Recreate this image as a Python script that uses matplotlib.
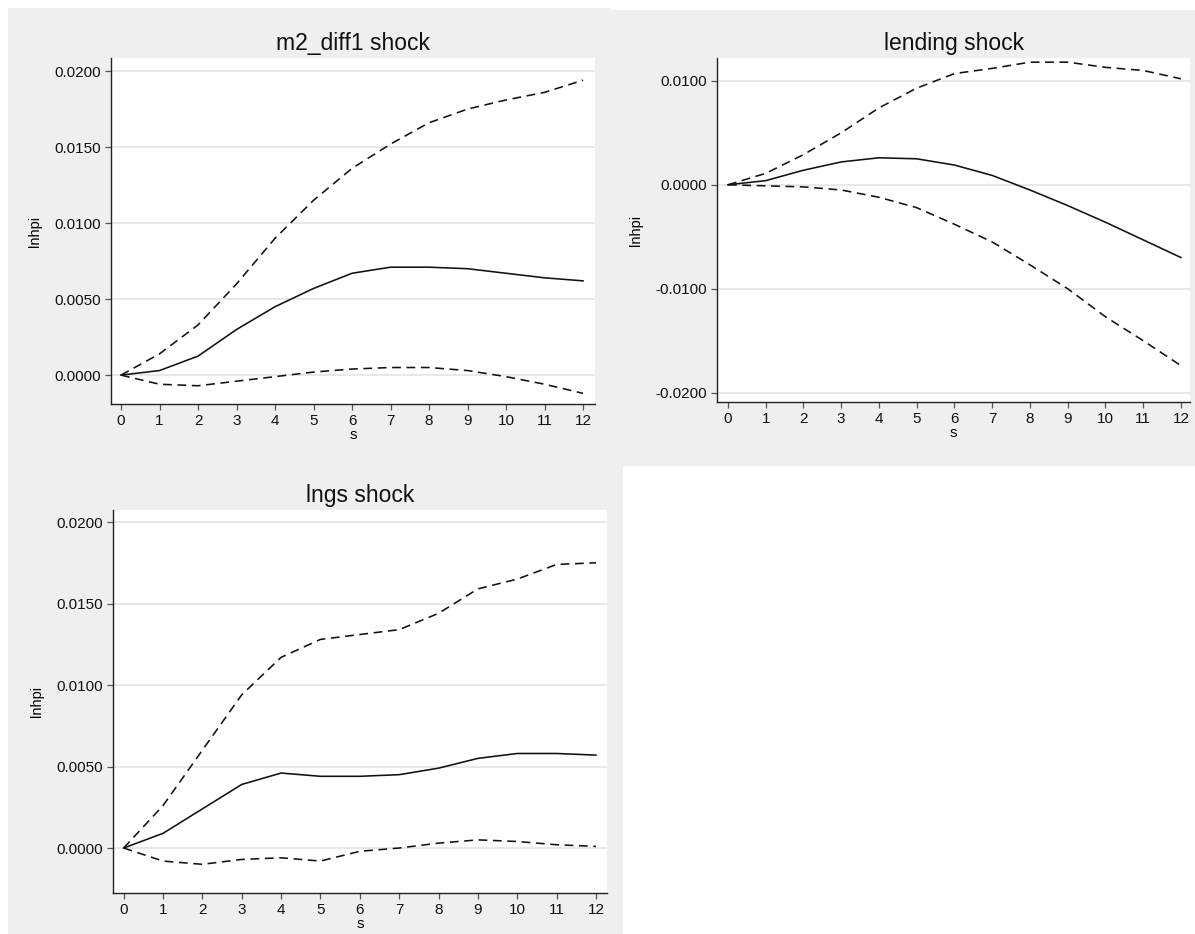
import matplotlib
matplotlib.use("Agg")
import matplotlib.pyplot as plt
from matplotlib.patches import Rectangle

plt.rcParams['font.family'] = ['Liberation Sans', 'DejaVu Sans']

steps = list(range(13))
xticks = list(range(13))

# m2_diff1 shock
m2_irf = [0.0, 0.0003, 0.00125, 0.0030, 0.0045, 0.0057, 0.0067, 0.0071, 0.0071, 0.0070, 0.0067, 0.0064, 0.0062]
m2_upper = [0.0, 0.0014, 0.0033, 0.0060, 0.0090, 0.0115, 0.0136, 0.0152, 0.0166, 0.0175, 0.0181, 0.0186, 0.0194]
m2_lower = [0.0, -0.0006, -0.0007, -0.0004, -0.0001, 0.0002, 0.0004, 0.0005, 0.0005, 0.0003, -0.0001, -0.0006, -0.0012]

# lending shock
lend_irf = [0.0, 0.0004, 0.0014, 0.0022, 0.0026, 0.0025, 0.0019, 0.0009, -0.0005, -0.0020, -0.0036, -0.0053, -0.0070]
lend_upper = [0.0, 0.0011, 0.0029, 0.0050, 0.0074, 0.0093, 0.0107, 0.0112, 0.0118, 0.0118, 0.0113, 0.0110, 0.0102]
lend_lower = [0.0, -0.0001, -0.0002, -0.0005, -0.0012, -0.0022, -0.0038, -0.0055, -0.0077, -0.0100, -0.0127, -0.0150, -0.0174]

# lngs shock
lngs_irf = [0.0, 0.0009, 0.0024, 0.0039, 0.0046, 0.0044, 0.0044, 0.0045, 0.0049, 0.0055, 0.0058, 0.0058, 0.0057]
lngs_upper = [0.0, 0.0026, 0.0060, 0.0094, 0.0117, 0.0128, 0.0131, 0.0134, 0.0144, 0.0159, 0.0165, 0.0174, 0.0175]
lngs_lower = [0.0, -0.0008, -0.0010, -0.0007, -0.0006, -0.0008, -0.0002, 0.0, 0.0003, 0.0005, 0.0004, 0.0002, 0.0001]

W, H = 1195, 934
fig = plt.figure(figsize=(W / 100, H / 100), dpi=100)
fig.patch.set_facecolor('white')

bg = '#efefef'


def px_rect(x0, y0, x1, y1):
    # pixel box (top-left origin) -> figure fraction
    return (x0 / W, 1 - y1 / H, (x1 - x0) / W, (y1 - y0) / H)


# gray graph regions of the three pasted panels
for box in [(8, 8, 611, 466), (607, 10, 1195, 466), (8, 466, 623, 934)]:
    l, b, w, h = px_rect(*box)
    fig.patches.append(Rectangle((l, b), w, h, transform=fig.transFigure,
                                 facecolor=bg, edgecolor='none', zorder=-5))


def panel(box, title, irf, lo, hi, ylim, yticks, xlim):
    ax = fig.add_axes(px_rect(*box))
    ax.set_zorder(2)
    ax.set_facecolor('white')
    ax.plot(steps, hi, color='#111111', lw=1.15, dashes=(5.5, 3.5))
    ax.plot(steps, lo, color='#111111', lw=1.15, dashes=(5.5, 3.5))
    ax.plot(steps, irf, color='#111111', lw=1.15)
    ax.set_xlim(*xlim)
    ax.set_ylim(*ylim)
    ax.set_xticks(xticks)
    ax.set_yticks(yticks)
    ax.set_yticklabels([f'{v:.4f}' for v in yticks])
    ax.grid(axis='y', color='#e6e6e6', lw=1.3)
    ax.set_axisbelow(True)
    for s in ['top', 'right']:
        ax.spines[s].set_visible(False)
    for s in ['left', 'bottom']:
        ax.spines[s].set_color('#222222')
        ax.spines[s].set_linewidth(1.0)
    ax.tick_params(axis='both', labelsize=11, length=4.5, width=0.9,
                   color='#555555', labelcolor='#111111', pad=2.5)
    ax.set_xlabel('s', fontsize=11, labelpad=0.5)
    ax.set_ylabel('lnhpi', fontsize=10.5, labelpad=9)
    ax.set_title(title, fontsize=16.5, pad=6, color='#111111')
    return ax


panel((111, 58, 595, 404), 'm2_diff1 shock', m2_irf, m2_lower, m2_upper,
      (-0.0019, 0.02086), [0.0, 0.005, 0.01, 0.015, 0.02], (-0.26, 12.31))
panel((717, 58, 1190, 402), 'lending shock', lend_irf, lend_lower, lend_upper,
      (-0.0209, 0.0122), [-0.02, -0.01, 0.0, 0.01], (-0.29, 12.24))
panel((113, 510, 607, 893), 'lngs shock', lngs_irf, lngs_lower, lngs_upper,
      (-0.00276, 0.02074), [0.0, 0.005, 0.01, 0.015, 0.02], (-0.27, 12.28))

fig.savefig('out.png', dpi=100, facecolor='white')
